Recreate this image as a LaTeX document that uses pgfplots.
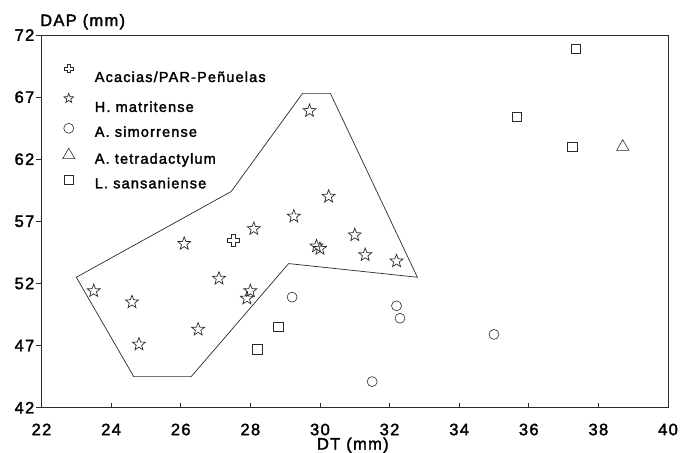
\documentclass[border=0pt]{standalone}
\usepackage{fontspec}
\setmainfont{Liberation Sans}[LetterSpace=8,FakeBold=2]
\usepackage{pgfplots}
\pgfplotsset{compat=1.18}
\pgfdeclareplotmark{ostar}{%
  \pgfpathmoveto{\pgfpointpolar{90}{\pgfplotmarksize}}%
  \pgfpathlineto{\pgfpointpolar{126}{0.42\pgfplotmarksize}}%
  \pgfpathlineto{\pgfpointpolar{162}{\pgfplotmarksize}}%
  \pgfpathlineto{\pgfpointpolar{198}{0.42\pgfplotmarksize}}%
  \pgfpathlineto{\pgfpointpolar{234}{\pgfplotmarksize}}%
  \pgfpathlineto{\pgfpointpolar{270}{0.42\pgfplotmarksize}}%
  \pgfpathlineto{\pgfpointpolar{306}{\pgfplotmarksize}}%
  \pgfpathlineto{\pgfpointpolar{342}{0.42\pgfplotmarksize}}%
  \pgfpathlineto{\pgfpointpolar{18}{\pgfplotmarksize}}%
  \pgfpathlineto{\pgfpointpolar{54}{0.42\pgfplotmarksize}}%
  \pgfpathclose\pgfusepathqstroke}
\pgfdeclareplotmark{ocross}{%
  \pgfpathmoveto{\pgfpoint{0.33\pgfplotmarksize}{\pgfplotmarksize}}%
  \pgfpathlineto{\pgfpoint{-0.33\pgfplotmarksize}{\pgfplotmarksize}}%
  \pgfpathlineto{\pgfpoint{-0.33\pgfplotmarksize}{0.33\pgfplotmarksize}}%
  \pgfpathlineto{\pgfpoint{-\pgfplotmarksize}{0.33\pgfplotmarksize}}%
  \pgfpathlineto{\pgfpoint{-\pgfplotmarksize}{-0.33\pgfplotmarksize}}%
  \pgfpathlineto{\pgfpoint{-0.33\pgfplotmarksize}{-0.33\pgfplotmarksize}}%
  \pgfpathlineto{\pgfpoint{-0.33\pgfplotmarksize}{-\pgfplotmarksize}}%
  \pgfpathlineto{\pgfpoint{0.33\pgfplotmarksize}{-\pgfplotmarksize}}%
  \pgfpathlineto{\pgfpoint{0.33\pgfplotmarksize}{-0.33\pgfplotmarksize}}%
  \pgfpathlineto{\pgfpoint{\pgfplotmarksize}{-0.33\pgfplotmarksize}}%
  \pgfpathlineto{\pgfpoint{\pgfplotmarksize}{0.33\pgfplotmarksize}}%
  \pgfpathlineto{\pgfpoint{0.33\pgfplotmarksize}{0.33\pgfplotmarksize}}%
  \pgfpathclose\pgfusepathqstroke}
\definecolor{ink}{HTML}{2A2A2A}
\begin{document}
\begin{tikzpicture}
\begin{axis}[
  at={(0,0)}, anchor=south west,
  scale only axis, width=626.5bp, height=372.7bp,
  xmin=22, xmax=40, ymin=42, ymax=72,
  xtick={22,24,...,40}, ytick={42,47,...,72},
  tick pos=left,
  xtick align=inside, ytick align=outside,
  major tick length=5bp,
  tick style={ink, line width=0.6bp},
  axis line style={ink, line width=0.7bp},
  /pgf/number format/assume math mode=true,
  xticklabel style={font=\fontsize{16.5bp}{18bp}\selectfont, anchor=base, inner sep=0pt, yshift=-27.5bp},
  yticklabel style={font=\fontsize{16.5bp}{18bp}\selectfont, anchor=east, inner sep=0pt, xshift=-2bp},
  xlabel={DT (mm)}, ylabel={DAP (mm)},
  every axis x label/.style={at={(axis description cs:0.497,0)}, anchor=base, inner sep=0pt, yshift=-41.8bp, font=\fontsize{16.5bp}{18bp}\selectfont},
  every axis y label/.style={at={(axis description cs:0,1)}, anchor=base west, inner sep=0pt, yshift=9bp, xshift=-1.5bp, font=\fontsize{16.5bp}{18bp}\selectfont},
  legend style={at={(axis description cs:0,1)}, anchor=north west, draw=none, fill=none,
    xshift=18bp, yshift=-27bp, font=\fontsize{14.5bp}{16bp}\selectfont,
    nodes={inner sep=0pt, text height=10bp, text depth=3bp},
    row sep=8.4bp, column sep=20bp},
  legend cell align=left,
  legend image post style={yshift=5bp},
]
\addplot[ink, line width=0.7bp, forget plot] coordinates {
  (23.0,52.5) (27.45,59.4) (29.5,67.3) (30.3,67.3) (32.8,52.5) (29.1,53.6) (26.3,44.5) (24.65,44.5) (23.0,52.5)};
\addplot[only marks, mark=ocross, mark size=6bp, ink, line width=0.6bp,
  legend image post style={yshift=5bp, mark size=4.3bp}] coordinates {(27.5,55.5)};
\addlegendentry{Acacias/PAR-Peñuelas}
\addplot[only marks, mark=ostar, mark size=6.8bp, ink, line width=0.7bp,
  legend image post style={yshift=5bp, mark size=5bp}] coordinates {
  (23.5,51.4) (24.6,50.5) (24.8,47.1) (26.1,55.2) (26.5,48.3) (27.1,52.4)
  (28.1,56.4) (28.0,51.4) (27.9,50.8) (29.25,57.4) (29.7,65.9) (29.9,55.0)
  (30.0,54.8) (30.25,59.0) (31.0,55.9) (31.3,54.3) (32.2,53.8)};
\addlegendentry{H. matritense}
\addplot[only marks, mark=o, mark size=5bp, ink, line width=0.6bp] coordinates {
  (29.2,50.9) (32.2,50.2) (32.3,49.2) (35.0,47.9) (31.5,44.1)};
\addlegendentry{A. simorrense}
\addplot[only marks, mark=triangle, mark size=7bp, ink, line width=0.6bp] coordinates {(38.7,63.0)};
\addlegendentry{A. tetradactylum}
\addplot[only marks, mark=square, mark size=4.7bp, ink, line width=0.6bp] coordinates {
  (37.35,70.9) (35.65,65.4) (37.25,63.0) (28.8,48.5) (28.2,46.7)};
\addlegendentry{L. sansaniense}
\end{axis}
\pgfresetboundingbox
\useasboundingbox (-41.5bp,-45.3bp) rectangle (640.5bp,407.7bp);
\end{tikzpicture}
\end{document}
